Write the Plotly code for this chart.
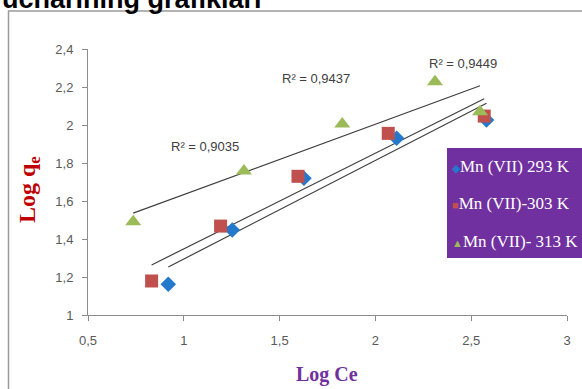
import numpy as np
import plotly.graph_objects as go

# ---------------- data ----------------
series_names = ["Mn (VII) 293 K", "Mn (VII)-303 K", "Mn (VII)- 313 K"]
x_293 = [0.919, 1.253, 1.627, 2.111, 2.580]
y_293 = [1.162, 1.447, 1.720, 1.930, 2.026]
x_303 = [0.832, 1.192, 1.596, 2.067, 2.568]
y_303 = [1.179, 1.468, 1.730, 1.956, 2.047]
x_313 = [0.736, 1.314, 1.827, 2.311, 2.546]
y_313 = [1.491, 1.758, 2.005, 2.228, 2.070]
r2_labels = ["R² = 0,9035", "R² = 0,9437", "R² = 0,9449"]
x_ticks = [0.5, 1, 1.5, 2, 2.5, 3]
y_ticks = [1, 1.2, 1.4, 1.6, 1.8, 2, 2.2, 2.4]
heading = "ucharining grafiklari"

# ---------------- layout geometry ----------------
W, H = 582, 389
L, R, T, B = 88, 15, 49, 74
PW, PH = W - L - R, H - T - B


def px(xp):
    return (xp - L) / PW


def py(yp):
    return (H - B - yp) / PH


colors = ["#2479CC", "#C0504D", "#9BBB59"]
symbols = ["diamond", "square", "triangle-up"]
sizes = [12, 13, 14]
glyphs = ["◆", "■", "▲"]
xs = [x_293, x_303, x_313]
ys = [y_293, y_303, y_313]

fig = go.Figure()

# trend lines
for xv, yv in zip(xs, ys):
    k, b = np.polyfit(xv, yv, 1)
    xl = np.array([min(xv), max(xv)])
    fig.add_trace(go.Scatter(x=xl, y=k * xl + b, mode="lines",
                             line=dict(color="#404040", width=1.2),
                             showlegend=False, hoverinfo="skip"))

# markers
for xv, yv, c, s, sz, n in zip(xs, ys, colors, symbols, sizes, series_names):
    fig.add_trace(go.Scatter(x=xv, y=yv, mode="markers", name=n,
                             marker=dict(color=c, symbol=s, size=sz,
                                         line=dict(width=0)),
                             showlegend=False))

tick_font = dict(family="Liberation Sans Narrow, Liberation Sans, Arial",
                 size=13, color="#595959")
axis_common = dict(showgrid=False, zeroline=False, showline=True,
                   linecolor="#8C8C8C", linewidth=1, ticks="outside",
                   ticklen=5, tickcolor="#8C8C8C", tickfont=tick_font)

fig.update_xaxes(range=[0.5, 3], tickvals=x_ticks, ticklabelstandoff=8,
                 **axis_common)
fig.update_yaxes(range=[1, 2.4], tickvals=y_ticks, ticklabelstandoff=6,
                 **axis_common)

shapes = [
    # outer chart frame
    dict(type="rect", xref="paper", yref="paper",
         x0=px(8.5), x1=px(620), y0=py(11), y1=py(420),
         line=dict(color="#9A9A9A", width=1.5), layer="below"),
    # legend box
    dict(type="rect", xref="paper", yref="paper",
         x0=px(447), x1=px(600), y0=py(148), y1=py(258),
         fillcolor="#7030A0", line=dict(width=0), layer="above"),
]

annotations = [
    dict(text=heading, xref="paper", yref="paper", x=px(0), y=py(-1),
         xanchor="left", yanchor="middle", showarrow=False,
         font=dict(family="Liberation Sans, Arial", size=27, color="#000000",
                   weight="bold")),
    dict(text="Log Ce", xref="paper",
         yref="paper", x=px(327), y=py(374), xanchor="center",
         yanchor="middle", showarrow=False,
         font=dict(family="Liberation Serif, serif", size=20,
                   color="#7030A0", weight="bold")),
    dict(text="Log q<sub>e</sub>", xref="paper", yref="paper",
         x=px(29), y=py(190), xanchor="center", yanchor="middle",
         textangle=-90, showarrow=False,
         font=dict(family="Liberation Serif, serif", size=24,
                   color="#C00000", weight="bold")),
]

r2_pos = [(205, 146), (316, 78), (463, 63)]
for lab, (ax_, ay_) in zip(r2_labels, r2_pos):
    annotations.append(dict(text=lab, xref="paper", yref="paper",
                            x=px(ax_), y=py(ay_), xanchor="center",
                            yanchor="middle", showarrow=False,
                            font=dict(family="Liberation Sans Narrow, Liberation Sans, Arial",
                                      size=13, color="#404040")))

leg_rows = [166, 204, 241]
for g, c, n, ry in zip(glyphs, colors, series_names, leg_rows):
    annotations.append(dict(
        text=f"<span style='color:{c};font-size:11px'>{g}</span>{n}",
        xref="paper", yref="paper", x=px(450), y=py(ry),
        xanchor="left", yanchor="middle", showarrow=False,
        font=dict(family="Liberation Serif, serif", size=17,
                  color="#FFFFFF")))

fig.update_layout(
    width=W, height=H,
    margin=dict(l=L, r=R, t=T, b=B, autoexpand=False),
    paper_bgcolor="#FFFFFF", plot_bgcolor="#FFFFFF",
    separators=", ",
    showlegend=False,
    shapes=shapes, annotations=annotations,
)

fig.write_html("out.html")
